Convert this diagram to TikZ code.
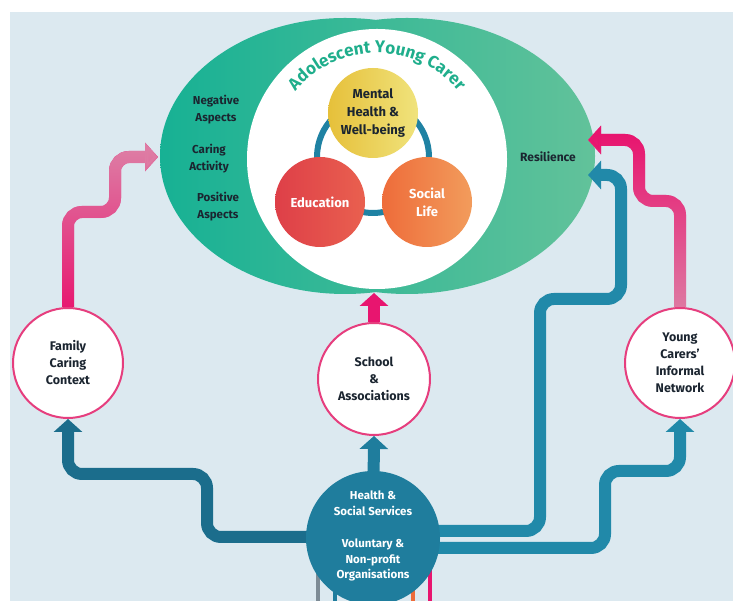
\documentclass[tikz,border=0pt]{standalone}
\usepackage{fontspec}
\setmainfont{Fira Sans}
\usetikzlibrary{arrows.meta,decorations.text,fadings}
\definecolor{bgblue}{HTML}{DCE9F0}
\definecolor{tealA}{HTML}{17B194}
\definecolor{greenB}{HTML}{62C29A}
\definecolor{ringblue}{HTML}{1F82A3}
\definecolor{yelA}{HTML}{E6C03A}
\definecolor{yelB}{HTML}{F0E37C}
\definecolor{redA}{HTML}{DE3F48}
\definecolor{redB}{HTML}{E9604F}
\definecolor{orA}{HTML}{EE6C3A}
\definecolor{orB}{HTML}{F29C5C}
\definecolor{pinkA}{HTML}{E8156F}
\definecolor{pinkB}{HTML}{DE7CA4}
\definecolor{blueL}{HTML}{1B6D8C}
\definecolor{blueM}{HTML}{1F7D9D}
\definecolor{blueR}{HTML}{2189A9}
\definecolor{ink}{HTML}{1B2530}
\definecolor{titleteal}{HTML}{1FAE8C}
\definecolor{ringpink}{HTML}{E63E7E}
\definecolor{greyline}{HTML}{7D8B95}
\tikzfading[name=fadeup, bottom color=transparent!100, top color=transparent!0]
\pgfdeclarelayer{back}
\pgfdeclarelayer{mid}
\pgfsetlayers{back,mid,main}
\tikzset{
  flowarrow/.style={line width=12pt, rounded corners=14pt, -{Triangle[width=28pt,length=13pt]}},
  agentcircle/.style={circle, draw=ringpink, line width=2pt, fill=white, minimum size=110pt, inner sep=0pt, align=center, font=\bfseries\fontsize{12.5}{17}\selectfont, text=ink},
  corecircle/.style={circle, minimum size=90pt, inner sep=0pt, align=center, font=\bfseries\fontsize{13}{18}\selectfont},
  sidetext/.style={align=center, font=\bfseries\fontsize{11.5}{17}\selectfont, text=ink},
  servtext/.style={align=center, font=\bfseries\fontsize{11.5}{15.5}\selectfont, text=white}
}
\begin{document}
\begin{tikzpicture}[x=1pt,y=1pt]
\useasboundingbox (0,0) rectangle (733,601);
\clip (0,0) rectangle (733,601);
\begin{pgfonlayer}{back}
  \fill[white] (0,0) rectangle (733,601);
  \fill[bgblue] (10,0) rectangle (733,589);
  \shade[left color=tealA, right color=greenB] (345,445) ellipse[x radius=185, y radius=138] (407,445) ellipse[x radius=188, y radius=138];
  \fill[white] (377,442) circle[radius=130];
  \draw[ringblue, line width=6pt] (373,444) circle[radius=56];
  \path[decorate, decoration={text along path, text align=center, text={|\bfseries\fontsize{17}{17}\selectfont\color{titleteal}|Adolescent Young Carer}}]
    (377,442) ++(155:106) arc[start angle=155, end angle=25, radius=106];
\end{pgfonlayer}

% core circles
\node[corecircle, left color=yelA, right color=yelB, text=ink] (mental) at (373,488) {Mental\\Health \&\\Well-being};
\node[corecircle, left color=redA, right color=redB, text=white] (edu) at (320,399) {Education};
\node[corecircle, left color=orA, right color=orB, text=white] (social) at (427,399) {Social\\Life};

% texts in ellipse
\node[sidetext] (neg) at (216,491) {Negative\\Aspects};
\node[sidetext] (caring) at (209,442) {Caring\\Activity};
\node[sidetext] (pos) at (218,394) {Positive\\Aspects};
\node[sidetext, font=\bfseries\fontsize{12}{17}\selectfont] (resil) at (548,444) {Resilience};

% agents
\node[agentcircle] (family) at (68,238) {Family\\Caring\\Context};
\node[agentcircle, minimum size=112pt] (school) at (374,222) {School\\\&\\Associations};
\node[agentcircle] (network) at (680,238) {Young\\Carers’\\Informal\\Network};
\node[circle, fill=blueM, minimum size=134pt, inner sep=0pt] (health) at (373,63) {};
\node[servtext] (hss) at (373,98) {Health \&\\Social Services};
\node[servtext] (vol) at (373,41) {Voluntary \&\\Non-profit\\Organisations};

\coordinate (tipL) at (158,444);
\coordinate (tipS) at (374,308);
\coordinate (tipR) at (588,461);
\coordinate (tipB) at (588,426);
\coordinate (bot1) at (318,-2);
\coordinate (bot2) at (335,-2);
\coordinate (bot3) at (413,-2);
\coordinate (bot4) at (430,-2);

\begin{pgfonlayer}{mid}
  % lines leaving the bottom
  \draw[greyline, line width=3.5pt] (health.center -| bot1) -- (bot1);
  \draw[blueM, line width=3.5pt] (health.center -| bot2) -- (bot2);
  \draw[orA, line width=3.5pt] (health.center -| bot3) -- (bot3);
  \draw[pinkA, line width=3.5pt] (health.center -| bot4) -- (bot4);
  % blue arrows
  \draw[flowarrow, blueL] ([yshift=1pt]health.center) -- (207,64) -- (207,127) -- (68,127) -- (family.south);
  \draw[flowarrow, blueM, rounded corners=0pt] (health.center) -- (school.south);
  \draw[flowarrow, blueR] ([yshift=7pt]health.center) -- (540,70) -- (540,302) -- (621,302) -- (621,426) -- (tipB);
  \draw[flowarrow, blueR] ([yshift=-10pt]health.center) -- (605,53) -- (605,130) -- (680,130) -- (network.south);
  % pink arrows
  \draw[flowarrow, pinkA] (family.north) -- (68,389) -- (115,389) -- (115,444) -- (tipL);
  \draw[flowarrow, pinkB, path fading=fadeup] (family.north) -- (68,389) -- (115,389) -- (115,444) -- (tipL);
  \draw[flowarrow, pinkA, rounded corners=0pt] (school.north) -- (tipS);
  \draw[flowarrow, pinkB] (network.north) -- (680,400) -- (639,400) -- (639,461) -- (tipR);
  \draw[flowarrow, pinkA, path fading=fadeup] (network.north) -- (680,400) -- (639,400) -- (639,461) -- (tipR);
\end{pgfonlayer}
\end{tikzpicture}
\end{document}
